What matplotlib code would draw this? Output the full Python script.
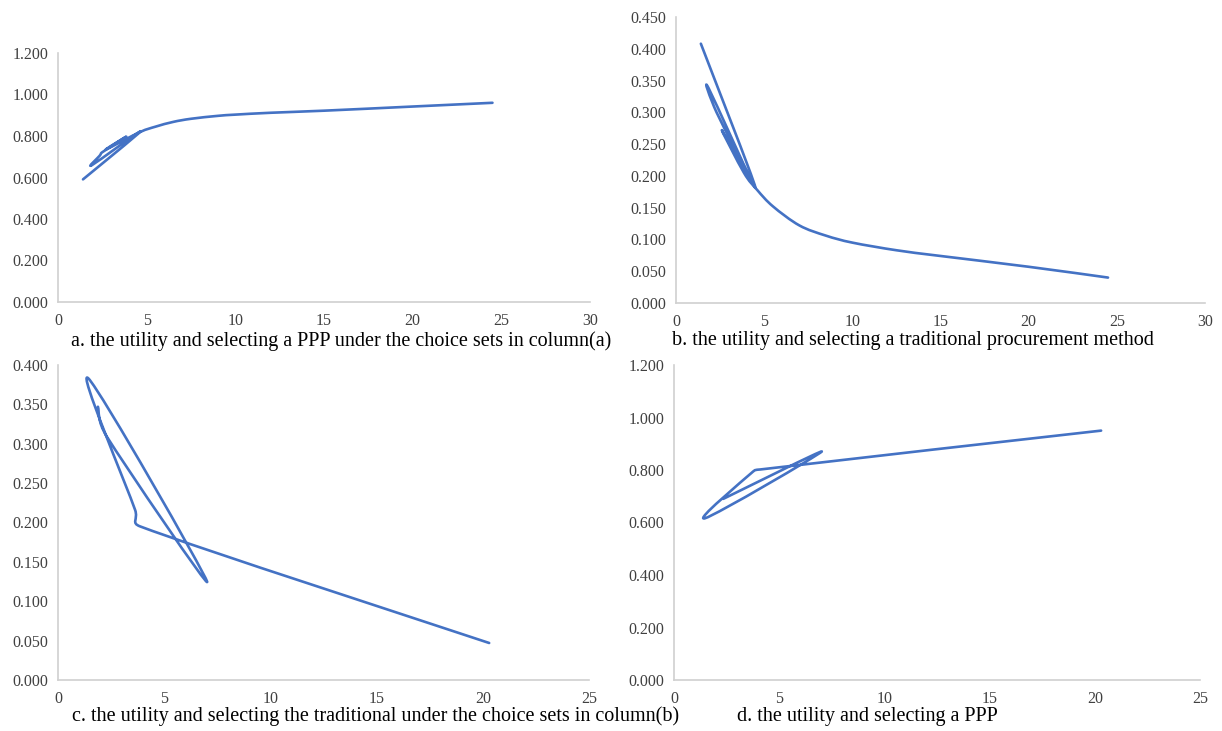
import matplotlib
matplotlib.use("Agg")
import matplotlib.pyplot as plt
import numpy as np
from matplotlib.path import Path
from matplotlib.patches import PathPatch
from matplotlib.ticker import FormatStrFormatter

# values (curves drawn smoothed, like Excel)
a_x = [1.41, 4.65, 1.92, 2.35, 2.5, 3.85, 2.7, 4.6, 5.5, 6.5, 7.5, 9, 10, 12, 15, 20, 24.5]
a_y = [0.591, 0.822, 0.660, 0.705, 0.722, 0.797, 0.735, 0.818, 0.845, 0.868, 0.883,
       0.897, 0.903, 0.912, 0.922, 0.942, 0.960]

b_x = [1.41, 4.5, 1.85, 2.3, 4.3, 2.6, 3.85, 4.6, 5.5, 7.0, 8.5, 10, 12.5, 15, 20, 24.5]
b_y = [0.408, 0.182, 0.338, 0.300, 0.190, 0.272, 0.205, 0.178, 0.152, 0.122,
       0.106, 0.095, 0.083, 0.074, 0.057, 0.040]

c_x = [1.88, 2.3, 7.02, 1.43, 3.63, 3.87, 20.3]
c_y = [0.347, 0.309, 0.125, 0.383, 0.216, 0.195, 0.047]

d_x = [2.34, 7.02, 1.47, 3.7, 4.1, 20.3]
d_y = [0.690, 0.870, 0.616, 0.790, 0.802, 0.950]

captions = [
    "a. the utility and selecting a PPP under the choice sets in column(a)",
    "b. the utility and selecting a traditional procurement method",
    "c. the utility and selecting the traditional under the choice sets in column(b)",
    "d. the utility and selecting a PPP",
]

BLUE = "#4472C4"
SERIF = "Liberation Serif"


def smooth_line(ax, xs, ys):
    # Catmull-Rom style bezier in pixel space, clamped a bit
    pts = ax.transData.transform(np.column_stack([xs, ys]))
    n = len(pts)
    verts = [pts[0]]
    codes = [Path.MOVETO]
    for i in range(n - 1):
        p0 = pts[max(i - 1, 0)]
        p1 = pts[i]
        p2 = pts[i + 1]
        p3 = pts[min(i + 2, n - 1)]
        seg = np.hypot(*(p2 - p1))
        t1 = (p2 - p0) / 6
        t2 = (p3 - p1) / 6
        t1 = t1 * min(1, 0.6 * seg / (np.hypot(*t1) + 1e-9))
        t2 = t2 * min(1, 0.6 * seg / (np.hypot(*t2) + 1e-9))
        verts += [p1 + t1, p2 - t2, p2]
        codes += [Path.CURVE4] * 3
    verts = ax.transData.inverted().transform(np.array(verts))
    ax.add_patch(PathPatch(Path(verts, codes), fill=False, edgecolor=BLUE,
                           lw=1.9, capstyle="round", joinstyle="round"))


fig = plt.figure(figsize=(12.22, 7.31), dpi=100)
W, H = 1222, 731

# plot box in pixels (left, right, bottom, top), limits, tick steps, data, caption centre
panels = [
    ((58, 590, 302, 53), (0, 1.2), (0, 30), 0.2, 5, a_x, a_y, (341, 341)),
    ((676, 1205, 303, 17), (0, 0.45), (0, 30), 0.05, 5, b_x, b_y, (913, 341)),
    ((58, 589, 680, 365), (0, 0.4), (0, 25), 0.05, 5, c_x, c_y, (376, 716)),
    ((674, 1200, 680, 365), (0, 1.2), (0, 25), 0.2, 5, d_x, d_y, (867, 716)),
]

for (l, r, b, t), ylim, xlim, ystep, xstep, xs, ys, cap_pos in panels:
    ax = fig.add_axes([l / W, 1 - b / H, (r - l) / W, (b - t) / H])
    ax.set_xlim(*xlim)
    ax.set_ylim(*ylim)
    ax.set_xticks(np.arange(xlim[0], xlim[1] + 0.001, xstep))
    ax.set_yticks(np.arange(ylim[0], ylim[1] + 0.0001, ystep))
    ax.yaxis.set_major_formatter(FormatStrFormatter("%.3f"))
    ax.xaxis.set_major_formatter(FormatStrFormatter("%d"))
    ax.tick_params(length=0, labelsize=11.5, labelcolor="#404040", pad=7)
    ax.tick_params(axis="x", pad=8)
    for lab in ax.get_xticklabels() + ax.get_yticklabels():
        lab.set_fontfamily(SERIF)
    for s in ("top", "right"):
        ax.spines[s].set_visible(False)
    for s in ("left", "bottom"):
        ax.spines[s].set_color("#D0D0D0")
        ax.spines[s].set_linewidth(1.2)
    ax.patch.set_alpha(0)
    smooth_line(ax, xs, ys)

for (panel, cap) in zip(panels, captions):
    cx, cy = panel[-1]
    fig.text(cx / W, 1 - cy / H, cap, ha="center", va="center",
             fontsize=14.5, family=SERIF, color="black")

fig.savefig("out.png", dpi=100)
